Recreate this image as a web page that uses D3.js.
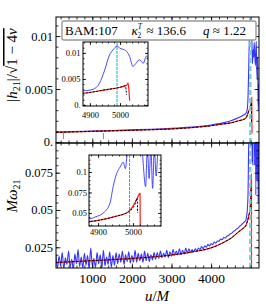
<!DOCTYPE html>
<html>
<head>
<meta charset="utf-8">
<script src="https://cdn.jsdelivr.net/npm/d3@7"></script>
<style>
  body { margin: 0; background: #fff; }
  text { font-family: "Liberation Serif", "DejaVu Serif", serif; }
</style>
</head>
<body>
<div id="chart"></div>
<script>
// ---- data ----
const mergerU = 4990;
const windowMarks = [270, 1280];

// amplitude |h21|/sqrt(1-4nu)
const ampNRU = [83, 500, 1000, 1500, 2000, 2500, 3000, 3500, 4000, 4300, 4500, 4700, 4800, 4877, 4910, 4932, 4949, 4965, 4977, 4990, 5000, 5010, 5022, 5032, 5043, 5053, 5065, 5077, 5088, 5100, 5120, 5140, 5160, 5175, 5190, 5210];
const ampNRV = [0.00094, 0.00098, 0.00103, 0.00108, 0.00114, 0.0012, 0.00128, 0.0014, 0.0016, 0.0018, 0.002, 0.0023, 0.0025, 0.0027, 0.003, 0.0042, 0.0067, 0.0096, 0.0106, 0.0113, 0.0109, 0.0107, 0.0103, 0.0093, 0.0074, 0.008, 0.0087, 0.008, 0.0094, 0.0085, 0.0072, 0.0095, 0.006, 0.008, 0.003, 0.0055];
const ampRedU = [83, 1000, 2000, 3000, 3500, 4000, 4300, 4500, 4700, 4800, 4877, 4950, 5000, 5022, 5027, 5030, 5032];
const ampRedV = [0.0009, 0.001, 0.0011, 0.00123, 0.00135, 0.00153, 0.0017, 0.0018, 0.002, 0.0021, 0.00225, 0.0029, 0.0034, 0.0038, 0.0042, 0.0025, 0.0008];
const ampBlackU = [83, 1000, 2000, 3000, 3500, 4000, 4300, 4500, 4700, 4800, 4877, 4950, 5000, 5018, 5020, 5022];
const ampBlackV = [0.0009, 0.001, 0.0011, 0.00123, 0.00135, 0.00153, 0.0017, 0.0018, 0.002, 0.0021, 0.00225, 0.0029, 0.0034, 0.0037, 0.003, 0.0019];

// frequency M*omega21 -- noisy NR part sampled every 40 M from u = 80
const omNRStart = 80, omNRStep = 40;
const omNRNoisy = [
  0.0200, 0.0110, 0.0190, 0.0125, 0.0215, 0.0105, 0.0180, 0.0135, 0.0225, 0.0115,
  0.0170, 0.0100, 0.0205, 0.0140, 0.0235, 0.0120, 0.0185, 0.0110, 0.0210, 0.0130,
  0.0195, 0.0105, 0.0245, 0.0125, 0.0175, 0.0115, 0.0215, 0.0140, 0.0200, 0.0110,
  0.0230, 0.0125, 0.0185, 0.0135, 0.0220, 0.0115, 0.0195, 0.0130,
  0.0215, 0.0140, 0.0205, 0.0150, 0.0225, 0.0135, 0.0200, 0.0155, 0.0220, 0.0145,
  0.0195, 0.0150, 0.0230, 0.0150, 0.0210, 0.0160, 0.0205, 0.0150, 0.0225, 0.0160,
  0.0210, 0.0155, 0.0200, 0.0165, 0.0215,
  0.0170, 0.0215, 0.0175, 0.0225, 0.0180, 0.0210, 0.0185, 0.0230, 0.0180, 0.0220,
  0.0190, 0.0235, 0.0195, 0.0225, 0.0200, 0.0240, 0.0200, 0.0230, 0.0205, 0.0245,
  0.0210, 0.0240, 0.0215, 0.0235, 0.0220,
  0.0240, 0.0225, 0.0245, 0.0235, 0.0255, 0.0240, 0.0260, 0.0250, 0.0270, 0.0258,
  0.0275, 0.0268, 0.0285, 0.0278, 0.0292, 0.0290, 0.0305, 0.0300, 0.0315, 0.0312,
  0.0325, 0.0328, 0.0340, 0.0345, 0.0355,
  0.0362, 0.0372, 0.0378, 0.0390, 0.0398, 0.0410, 0.0420, 0.0432
];
const omNRTailU = [4894, 4914, 4934, 4943, 4953, 4963, 4972, 4978, 4984, 4995, 5010, 5025, 5036, 5041, 5046, 5051, 5056, 5061, 5066, 5072, 5080, 5100, 5115, 5130, 5145, 5160, 5175, 5190, 5205];
const omNRTailV = [0.0455, 0.0496, 0.062, 0.082, 0.098, 0.106, 0.112, 0.104, 0.125, 0.14, 0.15, 0.13, 0.082, 0.13, 0.092, 0.13, 0.08, 0.13, 0.095, 0.13, 0.14, 0.08, 0.15, 0.06, 0.14, 0.07, 0.13, 0.055, 0.12];
const omRedU = [83, 1000, 2000, 3000, 3500, 4000, 4300, 4500, 4700, 4800, 4874, 4900, 4947, 4987, 5010, 5020, 5021];
const omRedV = [0.0148, 0.016, 0.0175, 0.0198, 0.0218, 0.0246, 0.028, 0.031, 0.0355, 0.0375, 0.0394, 0.041, 0.0455, 0.0516, 0.066, 0.074, 0.005];
const omBlackU = [83, 1000, 2000, 3000, 3500, 4000, 4300, 4500, 4700, 4800, 4874, 4900, 4947, 4987, 5005, 5012, 5013];
const omBlackV = [0.0148, 0.016, 0.0175, 0.0198, 0.0218, 0.0246, 0.028, 0.031, 0.0355, 0.0375, 0.0394, 0.041, 0.0455, 0.0516, 0.06, 0.068, 0.05];

// ticks
const uTicks = [1000, 2000, 3000, 4000];
const uTickLabels = ['1000', '2000', '3000', '4000'];
const ampTicks = [0, 0.005, 0.01];
const ampTickLabels = ['0.', '0.005', '0.01'];
const omTicks = [0.025, 0.05, 0.075];
const omTickLabels = ['0.025', '0.05', '0.075'];
const in1XTicks = [4900, 5000];
const in1YTicks = [0, 0.005, 0.01];
const in1YLabels = ['0.', '0.005', '0.01'];
const in2XTicks = [4900, 5000];
const in2YTicks = [0.05, 0.075, 0.1];
const in2YLabels = ['0.05', '0.075', '0.1'];

// ---- drawing ----
const svg = d3.select('#chart').append('svg')
  .attr('width', 266)
  .attr('height', 307);

const xMain = d3.scaleLinear().domain([83, 5210]).range([56, 259]);
const yAmp = d3.scaleLinear().domain([-0.0001, 0.0118]).range([143, 17]);
const yOm = d3.scaleLinear().domain([0.0111, 0.0949]).range([268, 143]);
const xIn1 = d3.scaleLinear().domain([4877, 5093]).range([83, 148]);
const yIn1 = d3.scaleLinear().domain([-0.0002, 0.0121]).range([106, 42]);
const xIn2 = d3.scaleLinear().domain([4874, 5080]).range([89, 161]);
const yIn2 = d3.scaleLinear().domain([0.0341, 0.1207]).range([226, 155]);

const BLUE = '#3434ff', RED = '#ff1c1c', CYAN_MAIN = '#76cfcf', CYAN_IN = '#00c4d4';

function clip(id, x, y) {
  svg.append('clipPath').attr('id', id).append('rect')
    .attr('x', x.range()[0]).attr('y', y.range()[1])
    .attr('width', x.range()[1] - x.range()[0])
    .attr('height', y.range()[0] - y.range()[1]);
}

function curve(g, x, y, us, vs, color, width, dash) {
  const pts = us.map((u, i) => [u, vs[i]]);
  g.append('path')
    .datum(pts)
    .attr('fill', 'none')
    .attr('stroke', color)
    .attr('stroke-width', width)
    .attr('stroke-dasharray', dash || null)
    .attr('d', d3.line().x(d => x(d[0])).y(d => y(d[1])).curve(d3.curveMonotoneX));
}

function frame(g, x, y, o) {
  const x0 = x.range()[0], x1 = x.range()[1], yb = y.range()[0], yt = y.range()[1];
  const add = (axis, tx, ty, fs) => {
    const a = g.append('g').attr('transform', `translate(${tx},${ty})`)
      .call(axis.tickSizeOuter(0));
    a.select('.domain').remove();
    a.attr('font-family', '"Liberation Serif", serif').attr('font-size', fs || 10);
    a.selectAll('line').attr('stroke', '#000').attr('stroke-width', 0.8);
    return a;
  };
  add(d3.axisBottom(x).tickValues(o.xMin).tickSizeInner(-o.min).tickFormat(''), 0, yb);
  add(d3.axisTop(x).tickValues(o.xMin).tickSizeInner(-o.min).tickFormat(''), 0, yt);
  add(d3.axisLeft(y).tickValues(o.yMin).tickSizeInner(-o.min).tickFormat(''), x0, 0);
  add(d3.axisRight(y).tickValues(o.yMin).tickSizeInner(-o.min).tickFormat(''), x1, 0);
  add(d3.axisBottom(x).tickValues(o.xMaj).tickSizeInner(-o.maj).tickPadding(o.xPad || 3)
    .tickFormat(o.xLab ? (d, i) => o.xLab[i] : ''), 0, yb, o.xFs);
  add(d3.axisTop(x).tickValues(o.xMaj).tickSizeInner(-o.maj).tickFormat(''), 0, yt);
  add(d3.axisLeft(y).tickValues(o.yMaj).tickSizeInner(-o.maj).tickPadding(o.yPad || 3)
    .tickFormat(o.yLab ? (d, i) => o.yLab[i] : ''), x0, 0, o.yFs);
  add(d3.axisRight(y).tickValues(o.yMaj).tickSizeInner(-o.maj).tickFormat(''), x1, 0);
  g.append('rect')
    .attr('x', x0).attr('y', yt)
    .attr('width', x1 - x0).attr('height', yb - yt)
    .attr('fill', 'none').attr('stroke', '#000').attr('stroke-width', 1);
}

clip('clip-amp', xMain, yAmp);
clip('clip-om', xMain, yOm);
clip('clip-in1', xIn1, yIn1);
clip('clip-in2', xIn2, yIn2);

const omNRU = omNRNoisy.map((v, i) => omNRStart + i * omNRStep).concat(omNRTailU);
const omNRV = omNRNoisy.concat(omNRTailV);

// --- top panel: amplitude ---
const gAmp = svg.append('g').attr('clip-path', 'url(#clip-amp)');
curve(gAmp, xMain, yAmp, ampNRU, ampNRV, BLUE, 1.1);
curve(gAmp, xMain, yAmp, ampRedU, ampRedV, RED, 1.2);
curve(gAmp, xMain, yAmp, ampBlackU, ampBlackV, '#000', 1, '2.5,1.5');
gAmp.selectAll('line.mark').data(windowMarks).enter().append('line')
  .attr('class', 'mark')
  .attr('x1', d => xMain(d)).attr('x2', d => xMain(d))
  .attr('y1', yAmp(0.00084)).attr('y2', yAmp(0.00028))
  .attr('stroke', '#888').attr('stroke-width', 1);
gAmp.append('line')
  .attr('x1', xMain(mergerU)).attr('x2', xMain(mergerU))
  .attr('y1', yAmp.range()[0]).attr('y2', yAmp.range()[1])
  .attr('stroke', CYAN_MAIN).attr('stroke-width', 2.4).attr('stroke-dasharray', '5,3');

frame(svg.append('g'), xMain, yAmp, {
  xMaj: uTicks, xMin: d3.range(200, 5200, 200),
  yMaj: ampTicks, yMin: d3.range(0, 0.0118, 0.001),
  yLab: ampTickLabels, yFs: 12.5, yPad: 3, maj: 4.5, min: 2.5
});

// --- bottom panel: frequency ---
const gOm = svg.append('g').attr('clip-path', 'url(#clip-om)');
curve(gOm, xMain, yOm, omNRU, omNRV, BLUE, 1.1);
curve(gOm, xMain, yOm, omRedU, omRedV, RED, 1.2);
curve(gOm, xMain, yOm, omBlackU, omBlackV, '#000', 1, '2.5,1.5');
gOm.append('line')
  .attr('x1', xMain(mergerU)).attr('x2', xMain(mergerU))
  .attr('y1', yOm.range()[0]).attr('y2', yOm.range()[1])
  .attr('stroke', CYAN_MAIN).attr('stroke-width', 2.4).attr('stroke-dasharray', '5,3');

frame(svg.append('g'), xMain, yOm, {
  xMaj: uTicks, xMin: d3.range(200, 5200, 200), xLab: uTickLabels, xFs: 13.5, xPad: 5.5,
  yMaj: omTicks, yMin: d3.range(0.015, 0.095, 0.005),
  yLab: omTickLabels, yFs: 12.5, yPad: 3, maj: 4.5, min: 2.5
});

// --- inset 1 (amplitude near merger) ---
svg.append('rect').attr('x', 83).attr('y', 42).attr('width', 65).attr('height', 64).attr('fill', '#fff');
const gIn1 = svg.append('g').attr('clip-path', 'url(#clip-in1)');
gIn1.append('line')
  .attr('x1', xIn1(mergerU)).attr('x2', xIn1(mergerU))
  .attr('y1', yIn1.range()[0]).attr('y2', yIn1.range()[1])
  .attr('stroke', CYAN_IN).attr('stroke-width', 1.1).attr('stroke-dasharray', '3,1');
curve(gIn1, xIn1, yIn1, ampNRU, ampNRV, BLUE, 0.9);
curve(gIn1, xIn1, yIn1, ampRedU, ampRedV, RED, 1.2);
curve(gIn1, xIn1, yIn1, ampBlackU, ampBlackV, '#000', 1, '2,1.5');
frame(svg.append('g'), xIn1, yIn1, {
  xMaj: in1XTicks, xMin: d3.range(4880, 5100, 20), xLab: ['4900', '5000'], xFs: 8.5, xPad: 5.5,
  yMaj: in1YTicks, yMin: d3.range(0, 0.012, 0.001), yLab: in1YLabels, yFs: 8.5, yPad: 2.5,
  maj: 3, min: 1.5
});

// --- inset 2 (frequency near merger) ---
svg.append('rect').attr('x', 89).attr('y', 155).attr('width', 72).attr('height', 71).attr('fill', '#fff');
const gIn2 = svg.append('g').attr('clip-path', 'url(#clip-in2)');
gIn2.append('line')
  .attr('x1', xIn2(mergerU)).attr('x2', xIn2(mergerU))
  .attr('y1', yIn2.range()[0]).attr('y2', yIn2.range()[1])
  .attr('stroke', CYAN_IN).attr('stroke-width', 1.1).attr('stroke-dasharray', '3,1');
curve(gIn2, xIn2, yIn2, omNRU, omNRV, BLUE, 0.9);
curve(gIn2, xIn2, yIn2, omRedU, omRedV, RED, 1.2);
curve(gIn2, xIn2, yIn2, omBlackU, omBlackV, '#000', 1, '2,1.5');
frame(svg.append('g'), xIn2, yIn2, {
  xMaj: in2XTicks, xMin: d3.range(4880, 5080, 20), xLab: ['4900', '5000'], xFs: 8.5, xPad: 3,
  yMaj: in2YTicks, yMin: d3.range(0.035, 0.12, 0.005), yLab: in2YLabels, yFs: 8.5, yPad: 2,
  maj: 3, min: 1.5
});

// --- legend box ---
svg.append('rect')
  .attr('x', 62).attr('y', 21).attr('width', 194).attr('height', 19).attr('rx', 2)
  .attr('fill', '#fff').attr('stroke', '#999').attr('stroke-width', 1.4);
svg.append('text').attr('x', 65).attr('y', 34.5).attr('font-size', 13).text('BAM:107');
const tk = svg.append('text').attr('x', 131.5).attr('y', 34.5).attr('font-size', 13);
tk.append('tspan').attr('font-style', 'italic').text('κ');
tk.append('tspan').attr('font-size', 7.5).attr('font-style', 'italic').attr('dy', -5.5).text('T');
tk.append('tspan').attr('font-size', 7.5).attr('dx', -4.5).attr('dy', 9).text('2');
tk.append('tspan').attr('dy', -3.5).attr('dx', 2).text(' ≈ 136.6');
const tq = svg.append('text').attr('x', 203).attr('y', 34.5).attr('font-size', 13);
tq.append('tspan').attr('font-style', 'italic').text('q');
tq.append('tspan').text(' ≈ 1.22');

// --- axis labels ---
const yl1 = svg.append('text')
  .attr('transform', 'translate(17,65) rotate(-90)')
  .attr('text-anchor', 'middle').attr('font-size', 15);
yl1.append('tspan').text('|');
yl1.append('tspan').attr('font-style', 'italic').text('h');
yl1.append('tspan').attr('font-size', 10).attr('dy', 3).text('21');
yl1.append('tspan').attr('dy', -3).text('|/√');
yl1.append('tspan').style('text-decoration', 'overline').text('1 − 4');
yl1.append('tspan').attr('font-style', 'italic').style('text-decoration', 'overline').text('ν');

const yl2 = svg.append('text')
  .attr('transform', 'translate(17,196) rotate(-90)')
  .attr('text-anchor', 'middle').attr('font-size', 15);
yl2.append('tspan').attr('font-style', 'italic').text('Mω');
yl2.append('tspan').attr('font-size', 10).attr('dy', 3).text('21');

const xl = svg.append('text')
  .attr('x', 157).attr('y', 301)
  .attr('text-anchor', 'middle').attr('font-size', 15);
xl.append('tspan').attr('font-style', 'italic').text('u');
xl.append('tspan').text('/');
xl.append('tspan').attr('font-style', 'italic').text('M');
</script>
</body>
</html>
